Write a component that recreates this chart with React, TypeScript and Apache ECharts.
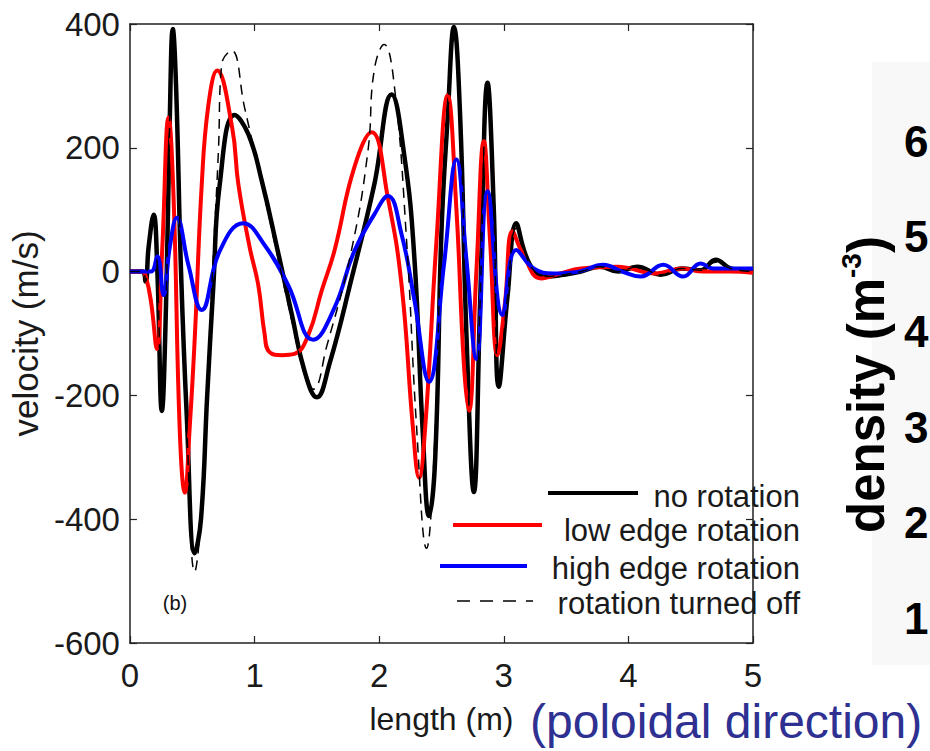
import React, { useEffect, useRef } from "react";
import * as echarts from "echarts";

// length (m) / velocity (m/s)
const noRotationL = [0, 0.1, 0.125, 0.15, 0.19, 0.22, 0.256, 0.29, 0.32, 0.344, 0.37, 0.41, 0.456, 0.52, 0.57, 0.62, 0.67, 0.72, 0.84, 0.95, 1.06, 1.19, 1.3, 1.4, 1.5, 1.6, 1.78, 1.96, 2.1, 2.2, 2.28, 2.35, 2.4, 2.45, 2.5, 2.55, 2.6, 2.65, 2.7, 2.76, 2.81, 2.87, 2.92, 2.96, 3.03, 3.1, 3.17, 3.25, 3.35, 3.48, 3.62, 3.77, 3.92, 4.07, 4.26, 4.43, 4.58, 4.7, 4.82, 5.0];
const noRotationV = [0, 0, -16, 40, 92, 0, -225, -50, 250, 392, 300, 0, -233, -455, -400, -200, -20, 140, 253, 222, 145, 30, -70, -160, -203, -150, -10, 140, 286, 190, 30, -260, -395, -300, 65, 250, 395, 250, -100, -356, -50, 305, 100, -186, -40, 78, 30, 0, -8, -5, 0, 8, 0, 8, -5, 5, 2, 19, 5, 0];

const lowEdgeL = [0, 0.1, 0.13, 0.17, 0.216, 0.26, 0.31, 0.35, 0.4, 0.44, 0.48, 0.52, 0.576, 0.63, 0.7, 0.82, 0.87, 0.96, 1.03, 1.08, 1.12, 1.22, 1.32, 1.43, 1.54, 1.64, 1.8, 1.94, 2.07, 2.18, 2.27, 2.32, 2.37, 2.46, 2.55, 2.62, 2.68, 2.72, 2.78, 2.84, 2.89, 2.95, 3.01, 3.07, 3.15, 3.3, 3.45, 3.62, 3.91, 4.22, 4.43, 4.6, 4.82, 5.0];
const lowEdgeV = [0, 0, -10, -50, -125, 40, 249, 120, -258, -357, -250, -108, 140, 270, 325, 233, 141, 40, -22, -100, -130, -135, -133, -103, -30, 33, 168, 225, 119, -22, -250, -333, -250, 50, 285, 100, -150, -225, 0, 211, 50, -135, -50, 65, 30, -11, -3, 5, 8, -3, 5, 0, 0, -2];

const highEdgeL = [0, 0.12, 0.17, 0.22, 0.27, 0.32, 0.376, 0.47, 0.576, 0.72, 0.91, 1.08, 1.27, 1.47, 1.64, 1.8, 1.96, 2.07, 2.18, 2.28, 2.4, 2.52, 2.62, 2.7, 2.78, 2.87, 2.99, 3.1, 3.24, 3.4, 3.6, 3.8, 3.95, 4.1, 4.28, 4.44, 4.58, 4.68, 4.85, 5.0];
const highEdgeV = [0, 0, 0, 25, -38, 40, 87, 10, -62, 33, 78, 43, -22, -110, -59, 33, 92, 122, 60, -43, -178, 11, 181, 20, -141, 130, -70, 35, 5, -3, 0, 11, 0, -8, 11, -8, 13, 5, 5, 5];

const turnedOffL = [0, 0.1, 0.125, 0.15, 0.19, 0.22, 0.256, 0.29, 0.32, 0.344, 0.37, 0.41, 0.456, 0.52, 0.57, 0.62, 0.67, 0.71, 0.736, 0.816, 0.92, 1.06, 1.19, 1.3, 1.4, 1.47, 1.58, 1.776, 1.91, 1.96, 2.04, 2.12, 2.22, 2.3, 2.38, 2.44, 2.5, 2.55, 2.6, 2.65, 2.7, 2.76, 2.81, 2.87, 2.92, 2.96, 3.03, 3.1, 3.17, 3.25, 3.35, 3.48, 3.62, 3.77, 3.92, 4.07, 4.26, 4.43, 4.58, 4.7, 4.82, 5.0];
const turnedOffV = [0, 0, -16, 40, 92, 0, -225, -50, 250, 385, 300, 0, -250, -485, -400, -180, 30, 195, 335, 357, 265, 140, 20, -80, -165, -190, -120, 33, 195, 325, 367, 303, 50, -250, -447, -300, 65, 250, 385, 250, -100, -350, -50, 295, 100, -180, -40, 70, 30, 0, -8, -5, 0, 8, 0, 8, -5, 5, 2, 15, 5, 0];

const seriesNames = ["no rotation", "low edge rotation", "high edge rotation", "rotation turned off"];
const densityTicks = ["6", "5", "4", "3", "2", "1"];

const FONT = "'Liberation Sans', Arial, sans-serif";

function pairs(xs: number[], ys: number[]) {
  return xs.map((x, i) => [x, ys[i]]);
}

export default function App() {
  const ref = useRef<HTMLDivElement>(null);
  useEffect(() => {
    const chart = echarts.init(ref.current!, null, { renderer: "svg" });
    const axisLine = { show: true, onZero: false, lineStyle: { color: "#222", width: 1.5 } };
    const axisTick = { show: true, inside: true, length: 7, lineStyle: { color: "#222", width: 1.2 } };
    const legendRows = [
      { name: seriesNames[0], x1: 548, x2: 638, y: 493, ty: 496, color: "#000", dash: null as any, w: 4 },
      { name: seriesNames[1], x1: 453, x2: 542, y: 525, ty: 530, color: "#ff0000", dash: null, w: 4 },
      { name: seriesNames[2], x1: 440, x2: 527, y: 566, ty: 568, color: "#0000ff", dash: null, w: 4 },
      { name: seriesNames[3], x1: 457, x2: 533, y: 601, ty: 603, color: "#000", dash: [13, 10], w: 1.5 },
    ];
    const graphic: any[] = [
      { type: "rect", shape: { x: 872, y: 62, width: 60, height: 603 }, style: { fill: "#f8f8f8" }, z: 0 },
      {
        type: "text", x: 175, y: 603,
        style: { text: "(b)", font: `20px ${FONT}`, fill: "#111", textAlign: "center", textVerticalAlign: "middle" },
      },
      {
        type: "text", x: 530, y: 721,
        style: { text: "(poloidal direction)", font: `48px ${FONT}`, fill: "#2e3192", textAlign: "left", textVerticalAlign: "middle" },
      },
      {
        type: "text", x: 866, y: 533, rotation: Math.PI / 2,
        style: { text: "density (m", font: `bold 51px ${FONT}`, fill: "#000", textAlign: "left", textVerticalAlign: "middle" },
      },
      {
        type: "text", x: 851, y: 278, rotation: Math.PI / 2,
        style: { text: "-3", font: `bold 28px ${FONT}`, fill: "#000", textAlign: "left", textVerticalAlign: "middle" },
      },
      {
        type: "text", x: 866, y: 253, rotation: Math.PI / 2,
        style: { text: ")", font: `bold 51px ${FONT}`, fill: "#000", textAlign: "left", textVerticalAlign: "middle" },
      },
    ];
    densityTicks.forEach((t, i) => {
      graphic.push({
        type: "text", x: 904, y: 141 + i * 95.4,
        style: { text: t, font: `bold 44px ${FONT}`, fill: "#000", textAlign: "left", textVerticalAlign: "middle" },
      });
    });
    legendRows.forEach((r) => {
      graphic.push({
        type: "line", shape: { x1: r.x1, y1: r.y, x2: r.x2, y2: r.y },
        style: { stroke: r.color, lineWidth: r.w, lineDash: r.dash || undefined }, z: 10,
      });
      graphic.push({
        type: "text", x: 800, y: r.ty, z: 10,
        style: { text: r.name, font: `31px ${FONT}`, fill: "#1a1a1a", textAlign: "right", textVerticalAlign: "middle" },
      });
    });

    const lineCommon = { type: "line", showSymbol: false, smooth: 0.45 };

    chart.setOption({
      animation: false,
      backgroundColor: "#ffffff",
      grid: { left: 129, right: 177, top: 24, bottom: 108, containLabel: false },
      xAxis: [
        {
          type: "value", min: 0, max: 5, interval: 1, position: "bottom",
          name: "length (m)", nameLocation: "middle", nameGap: 60,
          nameTextStyle: { fontSize: 32, color: "#1a1a1a", fontFamily: FONT },
          axisLine, axisTick,
          axisLabel: { fontSize: 33, color: "#1a1a1a", margin: 16, fontFamily: FONT },
          splitLine: { show: false },
        },
        {
          type: "value", min: 0, max: 5, interval: 1, position: "top",
          axisLine, axisTick, axisLabel: { show: false }, splitLine: { show: false },
        },
      ],
      yAxis: [
        {
          type: "value", min: -600, max: 400, interval: 200, position: "left",
          name: "velocity (m/s)", nameLocation: "middle", nameGap: 76, nameRotate: 90,
          nameTextStyle: { fontSize: 35, color: "#1a1a1a", fontFamily: FONT },
          axisLine, axisTick,
          axisLabel: { fontSize: 33, color: "#1a1a1a", margin: 10, fontFamily: FONT },
          splitLine: { show: false },
        },
        {
          type: "value", min: -600, max: 400, interval: 200, position: "right",
          axisLine, axisTick, axisLabel: { show: false }, splitLine: { show: false },
        },
      ],
      series: [
        {
          ...lineCommon, name: seriesNames[0], data: pairs(noRotationL, noRotationV), z: 2,
          lineStyle: { color: "#000", width: 4.5 },
        },
        {
          ...lineCommon, name: seriesNames[1], data: pairs(lowEdgeL, lowEdgeV), z: 3,
          lineStyle: { color: "#ff0000", width: 4 },
        },
        {
          ...lineCommon, name: seriesNames[2], data: pairs(highEdgeL, highEdgeV), z: 4,
          lineStyle: { color: "#0000ff", width: 4 },
        },
        {
          ...lineCommon, name: seriesNames[3], data: pairs(turnedOffL, turnedOffV), z: 5,
          lineStyle: { color: "#000", width: 1.5, type: [10, 7] },
        },
      ],
      graphic,
    });
    return () => chart.dispose();
  }, []);
  return (
    <div
      ref={ref}
      style={{ position: "fixed", left: 0, top: 0, width: 930, height: 751, background: "#fff" }}
    />
  );
}
